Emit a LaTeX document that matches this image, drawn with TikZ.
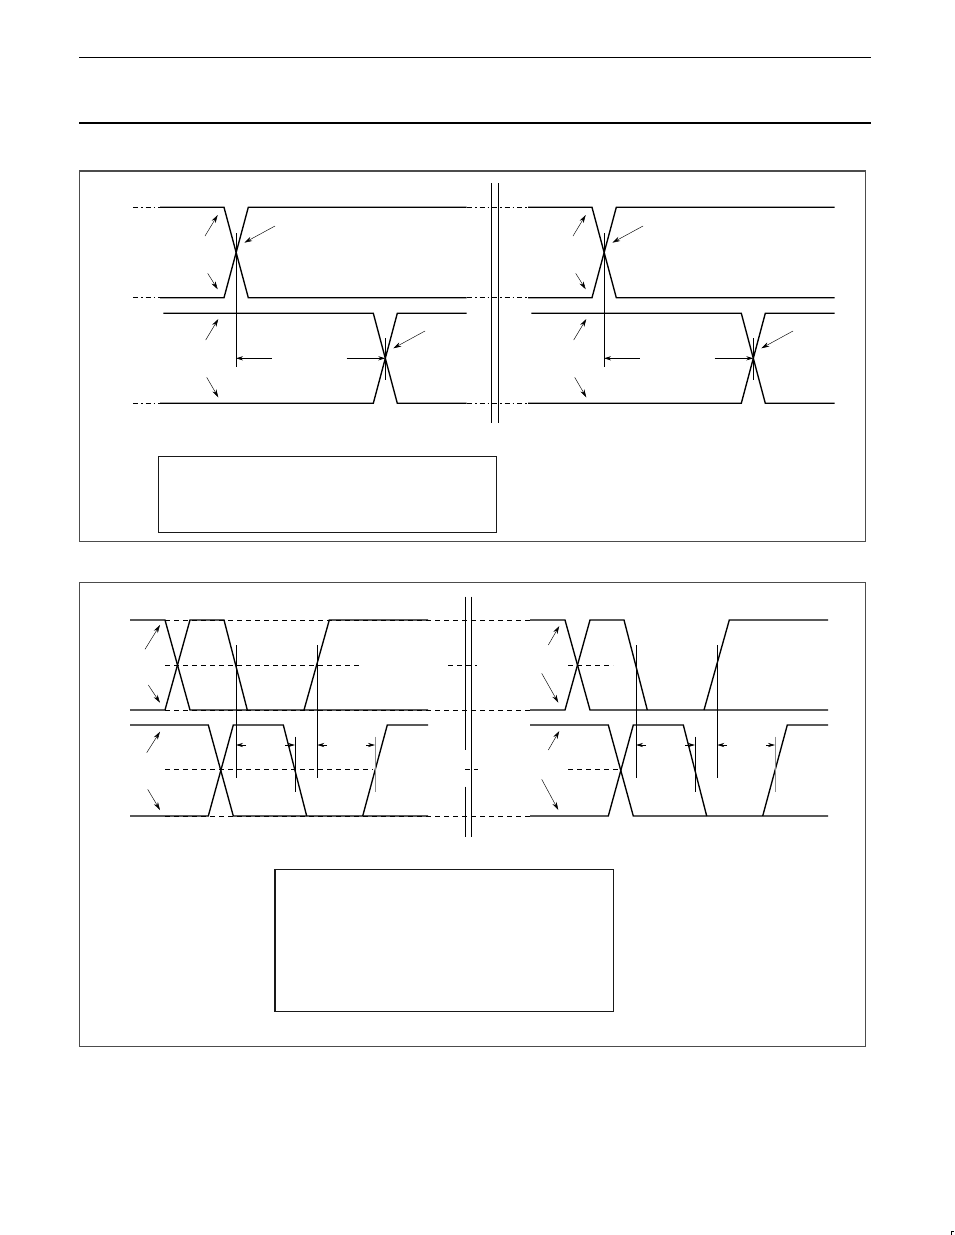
\documentclass[tikz,border=0pt]{standalone}
\usetikzlibrary{arrows.meta}
\begin{document}
\begin{tikzpicture}[x=1pt,y=-1pt,
  sig/.style={line width=1.35pt, line join=miter},
  thinl/.style={line width=0.75pt},
  ptr/.style={line width=0.45pt, -{Stealth[length=8pt,width=4.6pt]}},
  dimar/.style={line width=0.75pt, -{Stealth[length=7pt,width=4.2pt]}},
  dd/.style={line width=0.6pt, dash pattern=on 5pt off 3pt on 1.5pt off 3pt},
  ds/.style={line width=0.6pt, dash pattern=on 5pt off 4pt},
  frame/.style={line width=1.3pt, draw=black!70},
  tbox/.style={line width=1.5pt, draw=black!90}]
\useasboundingbox (0,0) rectangle (954,1235);
% header rules
\draw[line width=0.9pt] (79,57.3) -- (870.7,57.3);
\draw[line width=2pt] (79,122.7) -- (870.7,122.7);
% frames
\draw[frame] (79.5,171) rectangle (865.3,541.5);
\draw[frame] (79.5,582.7) rectangle (865.3,1046.5);
% ===== top panel =====
\foreach \yy in {207.3,297.7,403.3}{
  \draw[dd] (133,\yy) -- (160,\yy);
  \draw[dd] (467,\yy) -- (528,\yy);
}
\foreach \sh in {0,368}{
\begin{scope}[xshift=\sh pt]
  \draw[sig] (160,207.3) -- (224,207.3) -- (248.3,297.7) -- (466.7,297.7);
  \draw[sig] (160,297.7) -- (224,297.7) -- (248.3,207.3) -- (466.7,207.3);
  \draw[sig] (163.3,313.3) -- (373.3,313.3) -- (397.3,403.3) -- (466.7,403.3);
  \draw[sig] (160,403.3) -- (373.3,403.3) -- (397.3,313.3) -- (466.7,313.3);
  \coordinate (va1) at (236,233); \coordinate (va2) at (236,366.7);
  \coordinate (vb1) at (385.3,338.3); \coordinate (vb2) at (385.3,380);
  \draw[thinl] (va1) -- (va2);
  \draw[thinl] (vb1) -- (vb2);
  \draw[ptr] (275,226) -- (244.3,242.7);
  \draw[ptr] (425,331) -- (393.3,348.3);
  \draw[ptr] (205,236) -- (217.7,215);
  \draw[ptr] (207.7,273.3) -- (217.7,289.3);
  \draw[ptr] (205.7,340) -- (218.3,319);
  \draw[ptr] (206.7,377.3) -- (218.3,397.3);
  \draw[dimar] (271.7,358.3) -- (236,358.3);
  \draw[dimar] (346.7,358.3) -- (385.3,358.3);
\end{scope}}
\draw[thinl] (491.7,183.3) -- (491.7,423.3);
\draw[thinl] (498,183.3) -- (498,423.3);
\draw[tbox] (158.3,456.7) rectangle (496.7,532.3);
% ===== bottom panel =====
\draw[ds] (165,620) -- (530,620);
\draw[ds] (165,710) -- (530,710);
\draw[ds] (165,816) -- (530,816);
\draw[ds] (165,665.3) -- (361.7,665.3);
\draw[ds] (448,665.3) -- (477,665.3);
\draw[ds] (568,665.3) -- (613,665.3);
\draw[ds] (165,769.3) -- (373,769.3);
\draw[ds] (465,769.3) -- (478,769.3);
\draw[ds] (568,769.3) -- (618,769.3);
\foreach \sh in {0,400}{
\begin{scope}[xshift=\sh pt]
  % pair A
  \draw[sig] (130,620) -- (165,620) -- (190,710) -- (428,710);
  \draw[sig] (130,710) -- (165,710) -- (190,620) -- (224,620) -- (247.3,710);
  \draw[sig] (304,710) -- (329.3,620) -- (428,620);
  % pair B
  \draw[sig] (130,725) -- (208.3,725) -- (233.3,816) -- (428,816);
  \draw[sig] (130,816) -- (208.3,816) -- (233.3,725) -- (283.3,725) -- (306.7,816);
  \draw[sig] (362.7,816) -- (387.3,725) -- (428,725);
  % markers
  \draw[thinl] (236,645) -- (236,778.3);
  \draw[thinl] (317.3,645) -- (317.3,778.3);
  \draw[thinl] (295,736.7) -- (295,791.7);
  \draw[thinl, draw=black!45] (375,736.7) -- (375,791.7);
  \draw[dimar] (246,745) -- (236,745);
  \draw[dimar] (285,745) -- (295,745);
  \draw[dimar] (327,745) -- (317.3,745);
  \draw[dimar] (366,745) -- (375,745);
\end{scope}}
\draw[ptr] (145,649.3) -- (160,625);
\draw[ptr] (148.3,685) -- (160,702.7);
\draw[ptr] (146.7,752.7) -- (160,731.7);
\draw[ptr] (147.7,789.3) -- (160,810);
\draw[ptr] (548.3,645) -- (559.3,626);
\draw[ptr] (541.7,673.3) -- (558.3,702.7);
\draw[ptr] (548.3,750) -- (559.3,731);
\draw[ptr] (541.7,779.3) -- (558.3,810);
\draw[thinl] (465,596.7) -- (465,750);
\draw[thinl] (465,786.7) -- (465,836.7);
\draw[thinl] (471,596.7) -- (471,836.7);
\draw[tbox] (275,869.3) rectangle (613.3,1011.7);
% corner mark
\draw[line width=0.8pt] (951.7,1235) -- (951.7,1231.5) -- (954,1231.5);
\end{tikzpicture}
\end{document}
